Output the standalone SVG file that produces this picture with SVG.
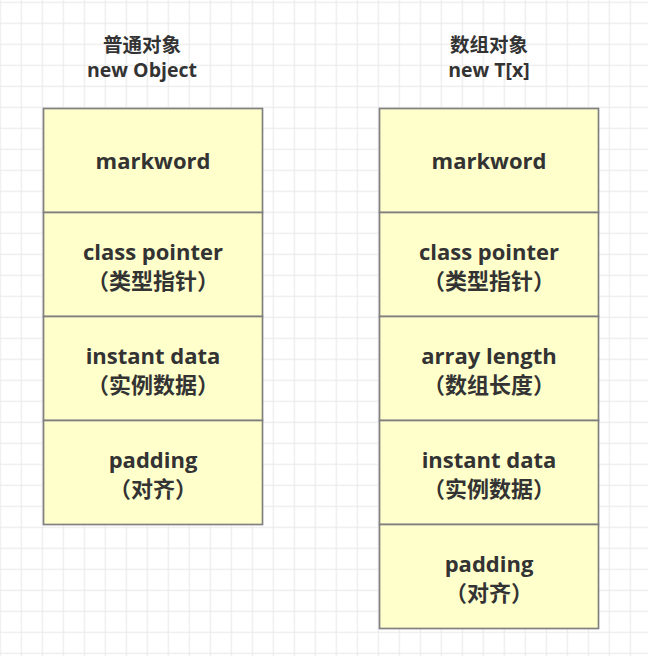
<svg xmlns="http://www.w3.org/2000/svg" width="648" height="656" viewBox="0 0 648 656">
<defs>
<pattern id="grid" patternUnits="userSpaceOnUse" x="20.7" y="1.7" width="21" height="21">
<rect x="0" y="0" width="21" height="1.2" fill="#ebebeb"/>
<rect x="0" y="0" width="1.2" height="21" fill="#ebebeb"/>
</pattern>
</defs>
<style>
.cell{fill:#ffffcc;stroke:#808080;stroke-width:1.7}
.t{font-family:"Open Sans","Noto Sans CJK SC",sans-serif;font-weight:bold;font-size:22px;fill:#333333;text-anchor:middle}
.h{font-family:"Open Sans","Noto Sans CJK SC",sans-serif;font-weight:bold;font-size:19.5px;fill:#333333;text-anchor:middle}
</style>
<rect width="648" height="656" fill="#ffffff"/>
<rect width="648" height="656" fill="url(#grid)"/>
<g id="title-left">
<text class="h" x="142" y="52">普通对象</text>
<text class="h" x="142" y="77">new Object</text>
</g>
<g id="title-right">
<text class="h" x="489" y="52">数组对象</text>
<text class="h" x="489" y="77">new T[x]</text>
</g>
<g id="left-markword">
<rect class="cell" x="43.5" y="108.5" width="219" height="104"/>
<text class="t" x="153" y="169">markword</text>
</g>
<g id="left-class-pointer">
<rect class="cell" x="43.5" y="212.5" width="219" height="104"/>
<text class="t" x="153" y="260">class pointer</text>
<text class="t" x="153" y="289">（类型指针）</text>
</g>
<g id="left-instant-data">
<rect class="cell" x="43.5" y="316.5" width="219" height="104"/>
<text class="t" x="153" y="364">instant data</text>
<text class="t" x="153" y="393">（实例数据）</text>
</g>
<g id="left-padding">
<rect class="cell" x="43.5" y="420.5" width="219" height="104"/>
<text class="t" x="153" y="468">padding</text>
<text class="t" x="153" y="497">（对齐）</text>
</g>
<g id="right-markword">
<rect class="cell" x="379.5" y="108.5" width="219" height="104"/>
<text class="t" x="489" y="169">markword</text>
</g>
<g id="right-class-pointer">
<rect class="cell" x="379.5" y="212.5" width="219" height="104"/>
<text class="t" x="489" y="260">class pointer</text>
<text class="t" x="489" y="289">（类型指针）</text>
</g>
<g id="right-array-length">
<rect class="cell" x="379.5" y="316.5" width="219" height="104"/>
<text class="t" x="489" y="364">array length</text>
<text class="t" x="489" y="393">（数组长度）</text>
</g>
<g id="right-instant-data">
<rect class="cell" x="379.5" y="420.5" width="219" height="104"/>
<text class="t" x="489" y="468">instant data</text>
<text class="t" x="489" y="497">（实例数据）</text>
</g>
<g id="right-padding">
<rect class="cell" x="379.5" y="524.5" width="219" height="104"/>
<text class="t" x="489" y="572">padding</text>
<text class="t" x="489" y="601">（对齐）</text>
</g>
<g id="connectors"></g>
</svg>
